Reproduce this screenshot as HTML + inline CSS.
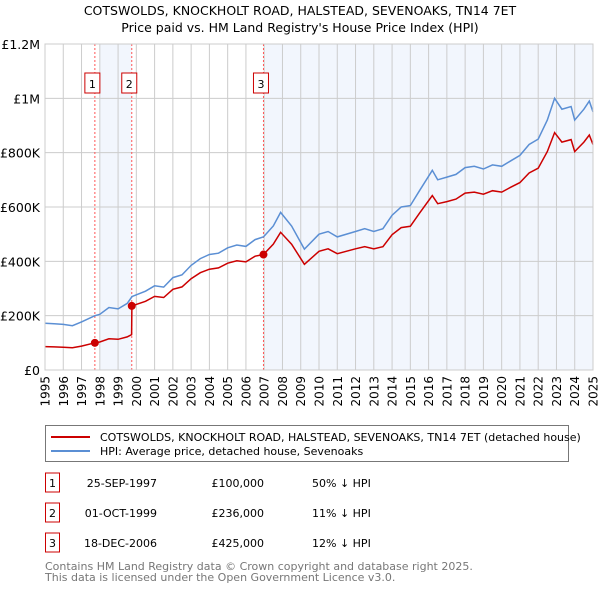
<!DOCTYPE html>
<html><head><meta charset="utf-8"><style>
body{margin:0;background:#fff;font-family:"Liberation Sans","DejaVu Sans",sans-serif;}
#wrap{position:relative;width:600px;height:590px;overflow:hidden;}
</style></head><body>
<div id="wrap">
<svg id="chart" width="600" height="590" style="position:absolute;left:0;top:0;font-family:'DejaVu Sans','Liberation Sans',sans-serif"></svg>
</div>
<script>
const dates=[1995,1995.5,1996,1996.5,1997,1997.73,1998,1998.5,1999,1999.5,1999.74,1999.76,2000.5,2001,2001.5,2002,2002.5,2003,2003.5,2004,2004.5,2005,2005.5,2006,2006.5,2006.96,2007.5,2007.9,2008.5,2009.2,2010,2010.5,2011,2012,2012.5,2013,2013.5,2014,2014.5,2015,2015.5,2016.2,2016.5,2017,2017.5,2018,2018.5,2019,2019.5,2020,2020.5,2021,2021.5,2022,2022.5,2022.9,2023.3,2023.8,2024,2024.5,2024.8,2025];
const hpiValues=[172,170,168,163,177,200,205,230,225,245,268,270,290,310,305,340,350,385,410,425,430,450,460,455,480,490,530,580,530,445,500,510,490,510,520,510,520,570,600,605,660,735,700,710,720,745,750,740,755,750,770,790,830,850,920,1000,960,970,920,960,990,950];
const priceValues=[86,85,84,82,88,100,103,115,113,122,130,236,253,271,267,297,306,336,358,371,376,393,402,398,419,425,463,507,463,389,437,446,428,446,454,446,454,498,524,529,577,642,612,620,629,651,655,647,660,655,673,690,725,743,804,874,839,848,804,839,865,830];
const saleDates=[1997.73,1999.75,2006.96];
const salePrices=[100,236,425];
const saleLabels=["1","2","3"];
const yTicks=[0,200,400,600,800,1000,1200];
const yTickLabels=["£0","£200K","£400K","£600K","£800K","£1M","£1.2M"];
const years=[];for(let y=1995;y<=2025;y++)years.push(y);
const shadeRanges=[[1998.0,1999.75],[2007.05,2025]];
const tableDates=["25-SEP-1997","01-OCT-1999","18-DEC-2006"];
const tablePrices=["£100,000","£236,000","£425,000"];
const tableHpi=["50% ↓ HPI","11% ↓ HPI","12% ↓ HPI"];

const X0=45,X1=593,Y0=370,Y1=44;
const xs=d=>X0+(d-1995)/30*(X1-X0);
const ys=v=>Y0-v/1200*(Y0-Y1);
const svg=document.getElementById('chart');
const NS='http://www.w3.org/2000/svg';
function mk(t,a,txt){const e=document.createElementNS(NS,t);for(const k in a)e.setAttribute(k,a[k]);if(txt!==undefined)e.textContent=txt;svg.appendChild(e);return e;}

let e;
e=mk('text',{x:300,y:15,'text-anchor':'middle','font-size':12.5,fill:'#000'},'COTSWOLDS, KNOCKHOLT ROAD, HALSTEAD, SEVENOAKS, TN14 7ET');


e=mk('text',{x:300,y:32,'text-anchor':'middle','font-size':12.5,fill:'#000'},"Price paid vs. HM Land Registry's House Price Index (HPI)");



shadeRanges.forEach(r=>{
  const s=mk('rect',{x:xs(r[0]),y:Y1,width:xs(r[1])-xs(r[0]),height:Y0-Y1,fill:'#eef3fc',opacity:0.75});
  
  
});
years.forEach(y=>{
  const g=mk('line',{x1:xs(y),x2:xs(y),y1:Y1,y2:Y0,stroke:'#cccccc','stroke-width':1});
  
  
  const t=mk('text',{transform:`translate(${xs(y)+4.5},${Y0+6}) rotate(-90)`,'text-anchor':'end','font-size':12,fill:'#000'},String(y));
  
  
});
yTicks.forEach((v,i)=>{
  const g=mk('line',{x1:X0,x2:X1,y1:ys(v),y2:ys(v),stroke:'#cccccc','stroke-width':1});
  
  
  const t=mk('text',{x:40,y:ys(v)+5,'text-anchor':'end','font-size':12.5,fill:'#000'},yTickLabels[i]);
  
  
});
saleDates.forEach((d,i)=>{
  const l=mk('line',{x1:xs(d),x2:xs(d),y1:Y1,y2:Y0,stroke:'#ff5555','stroke-width':1,'stroke-dasharray':'2,2'});
  
  
  const b=mk('rect',{x:xs(d)-10,y:73,width:15,height:20,fill:'#fff',stroke:'#cc0000','stroke-width':1});
  
  
  const t=mk('text',{x:xs(d)-2.5,y:88,'text-anchor':'middle','font-size':11,fill:'#000'},saleLabels[i]);
  
  
});
const path=vals=>vals.map((v,i)=>(i?'L':'M')+xs(dates[i]).toFixed(1)+','+ys(v).toFixed(1)).join('');
e=mk('path',{d:path(hpiValues),fill:'none',stroke:'#5b8fd4','stroke-width':1.5});


e=mk('path',{d:path(priceValues),fill:'none',stroke:'#cc0000','stroke-width':1.5});


saleDates.forEach((d,i)=>{
  const c=mk('circle',{cx:xs(d),cy:ys(salePrices[i]),r:4,fill:'#cc0000'});
  
  
});
e=mk('rect',{x:X0,y:Y1,width:X1-X0,height:Y0-Y1,fill:'none',stroke:'#cccccc'});



// legend
e=mk('rect',{x:45.5,y:425.5,width:523,height:36,fill:'#fff',stroke:'#777'});


e=mk('line',{x1:51,x2:90,y1:437,y2:437,stroke:'#cc0000','stroke-width':2});


e=mk('text',{x:100,y:441,'font-size':11,fill:'#000'},'COTSWOLDS, KNOCKHOLT ROAD, HALSTEAD, SEVENOAKS, TN14 7ET (detached house)');


e=mk('line',{x1:51,x2:90,y1:451,y2:451,stroke:'#5b8fd4','stroke-width':2});


e=mk('text',{x:100,y:455,'font-size':11,fill:'#000'},'HPI: Average price, detached house, Sevenoaks');



// table
[0,1,2].forEach(i=>{
  const y=483+i*30;
  const b=mk('rect',{x:45.5,y:y-10,width:14,height:19,fill:'#fff',stroke:'#cc0000'});
  
  
  const n=mk('text',{x:52.5,y:y+4,'text-anchor':'middle','font-size':11,fill:'#000'},saleLabels[i]);
  
  
  const d=mk('text',{x:157,y:y+4,'text-anchor':'end','font-size':11,fill:'#000'},tableDates[i]);
  
  
  const p=mk('text',{x:264,y:y+4,'text-anchor':'end','font-size':11,fill:'#000'},tablePrices[i]);
  
  
  const h=mk('text',{x:312,y:y+4,'font-size':11,fill:'#000'},tableHpi[i]);
  
  
});
e=mk('text',{x:45,y:570,'font-size':11,fill:'#777'},'Contains HM Land Registry data © Crown copyright and database right 2025.');


e=mk('text',{x:45,y:581,'font-size':11,fill:'#777'},'This data is licensed under the Open Government Licence v3.0.');


</script>
</body></html>
